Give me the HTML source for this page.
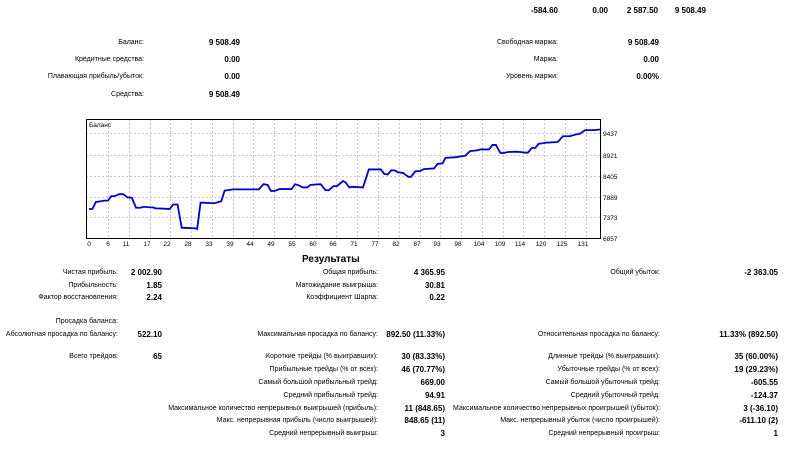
<!DOCTYPE html>
<html><head><meta charset="utf-8"><style>
body{margin:0;width:800px;height:451px;background:#fff;position:relative;overflow:hidden;font-family:"Liberation Sans","DejaVu Sans",sans-serif;font-size:7px;color:#000}
.t{position:absolute;white-space:nowrap;line-height:10px;text-align:right}
.b{font-weight:bold;font-size:8px}
</style></head><body>
<div class="t b" style="right:242px;top:6px">-584.60</div>
<div class="t b" style="right:192px;top:6px">0.00</div>
<div class="t b" style="right:142px;top:6px">2 587.50</div>
<div class="t b" style="right:94px;top:6px">9 508.49</div>

<div class="t" style="right:656px;top:38px">Баланс:</div>
<div class="t b" style="right:560px;top:38px">9 508.49</div>
<div class="t" style="right:656px;top:55px">Кредитные средства:</div>
<div class="t b" style="right:560px;top:55px">0.00</div>
<div class="t" style="right:656px;top:72px">Плавающая прибыль/убыток:</div>
<div class="t b" style="right:560px;top:72px">0.00</div>
<div class="t" style="right:656px;top:90px">Средства:</div>
<div class="t b" style="right:560px;top:90px">9 508.49</div>
<div class="t" style="right:242px;top:38px">Свободная маржа:</div>
<div class="t b" style="right:141px;top:38px">9 508.49</div>
<div class="t" style="right:242px;top:55px">Маржа:</div>
<div class="t b" style="right:141px;top:55px">0.00</div>
<div class="t" style="right:242px;top:72px">Уровень маржи:</div>
<div class="t b" style="right:141px;top:72px">0.00%</div>

<svg style="position:absolute;left:0;top:0" width="800" height="451">
<g stroke="#c8c8c8" stroke-width="1" stroke-dasharray="2,2">
<line x1="86" y1="133.5" x2="600" y2="133.5"/><line x1="86" y1="155.5" x2="600" y2="155.5"/><line x1="86" y1="176.5" x2="600" y2="176.5"/><line x1="86" y1="197.5" x2="600" y2="197.5"/><line x1="86" y1="217.5" x2="600" y2="217.5"/>
<line x1="108.5" y1="119" x2="108.5" y2="238"/><line x1="129.5" y1="119" x2="129.5" y2="238"/><line x1="150.5" y1="119" x2="150.5" y2="238"/><line x1="170.5" y1="119" x2="170.5" y2="238"/><line x1="191.5" y1="119" x2="191.5" y2="238"/><line x1="212.5" y1="119" x2="212.5" y2="238"/><line x1="233.5" y1="119" x2="233.5" y2="238"/><line x1="253.5" y1="119" x2="253.5" y2="238"/><line x1="274.5" y1="119" x2="274.5" y2="238"/><line x1="295.5" y1="119" x2="295.5" y2="238"/><line x1="316.5" y1="119" x2="316.5" y2="238"/><line x1="336.5" y1="119" x2="336.5" y2="238"/><line x1="357.5" y1="119" x2="357.5" y2="238"/><line x1="378.5" y1="119" x2="378.5" y2="238"/><line x1="399.5" y1="119" x2="399.5" y2="238"/><line x1="420.5" y1="119" x2="420.5" y2="238"/><line x1="440.5" y1="119" x2="440.5" y2="238"/><line x1="461.5" y1="119" x2="461.5" y2="238"/><line x1="482.5" y1="119" x2="482.5" y2="238"/><line x1="503.5" y1="119" x2="503.5" y2="238"/><line x1="523.5" y1="119" x2="523.5" y2="238"/><line x1="544.5" y1="119" x2="544.5" y2="238"/><line x1="565.5" y1="119" x2="565.5" y2="238"/><line x1="586.5" y1="119" x2="586.5" y2="238"/>
</g>
<rect x="86.5" y="119.5" width="514" height="119" fill="none" stroke="#000" stroke-width="1"/>
<g transform="translate(82.1,115) scale(0.3434,0.322)">
<polyline fill="none" stroke="#0000c8" stroke-width="1.8" vector-effect="non-scaling-stroke" points="20,292 30,292 40,270 55,268 65,266 75,266 85,252 95,252 108,246 120,246 132,256 145,257 157,288 170,288 180,285 190,286 205,287 215,290 240,291 255,292 265,278 278,278 290,350 330,352 335,354 345,272 385,274 405,268 415,235 440,231 515,231 528,215 540,217 550,236 560,236 575,230 610,230 620,215 630,218 643,225 655,225 665,217 695,215 708,233 718,234 732,221 742,221 760,205 768,210 778,225 790,223 818,225 835,169 870,169 880,183 890,185 900,172 910,172 920,178 935,180 950,192 958,192 970,175 985,174 995,168 1025,166 1035,152 1050,150 1058,133 1090,131 1100,129 1115,127 1130,112 1150,110 1160,107 1185,107 1195,93 1205,93 1218,118 1228,118 1240,115 1265,114 1275,115 1290,117 1298,117 1310,102 1320,102 1330,89 1340,88 1350,86 1385,84 1400,66 1420,66 1440,60 1450,58 1465,47 1490,47 1508,45"/>
</g>
<g font-family="Liberation Sans, sans-serif" font-size="6.5" fill="#000">
<text x="89" y="127">Баланс</text>
<text x="603" y="136">9437</text><text x="603" y="158">8921</text><text x="603" y="179">8405</text><text x="603" y="200">7889</text><text x="603" y="220">7373</text><text x="603" y="241">6857</text>
<g text-anchor="middle">
<text x="89" y="246">0</text><text x="108" y="246">6</text><text x="126" y="246">11</text><text x="147" y="246">17</text><text x="167" y="246">22</text><text x="188" y="246">28</text><text x="209" y="246">33</text><text x="230" y="246">39</text><text x="250" y="246">44</text><text x="271" y="246">49</text><text x="292" y="246">55</text><text x="313" y="246">60</text><text x="333" y="246">66</text><text x="354" y="246">71</text><text x="375" y="246">77</text><text x="396" y="246">82</text><text x="417" y="246">87</text><text x="437" y="246">93</text><text x="458" y="246">98</text><text x="479" y="246">104</text><text x="500" y="246">109</text><text x="520" y="246">114</text><text x="541" y="246">120</text><text x="562" y="246">125</text><text x="583" y="246">131</text>
</g></g>
</svg>

<div class="t b" style="left:302px;top:255px;font-size:10px;text-align:left">Результаты</div>

<div class="t" style="right:682px;top:268px">Чистая прибыль:</div><div class="t b" style="right:638px;top:268px">2 002.90</div>
<div class="t" style="right:682px;top:281px">Прибыльность:</div><div class="t b" style="right:638px;top:281px">1.85</div>
<div class="t" style="right:682px;top:293px">Фактор восстановления:</div><div class="t b" style="right:638px;top:293px">2.24</div>
<div class="t" style="right:682px;top:317px">Просадка баланса:</div>
<div class="t" style="right:682px;top:330px">Абсолютная просадка по балансу:</div><div class="t b" style="right:638px;top:330px">522.10</div>
<div class="t" style="right:682px;top:352px">Всего трейдов:</div><div class="t b" style="right:638px;top:352px">65</div>

<div class="t" style="right:422px;top:268px">Общая прибыль:</div><div class="t b" style="right:355px;top:268px">4 365.95</div>
<div class="t" style="right:422px;top:281px">Матожидание выигрыша:</div><div class="t b" style="right:355px;top:281px">30.81</div>
<div class="t" style="right:422px;top:293px">Коэффициент Шарпа:</div><div class="t b" style="right:355px;top:293px">0.22</div>
<div class="t" style="right:422px;top:330px">Максимальная просадка по балансу:</div><div class="t b" style="right:355px;top:330px">892.50 (11.33%)</div>
<div class="t" style="right:422px;top:352px">Короткие трейды (% выигравших):</div><div class="t b" style="right:355px;top:352px">30 (83.33%)</div>
<div class="t" style="right:422px;top:365px">Прибыльные трейды (% от всех):</div><div class="t b" style="right:355px;top:365px">46 (70.77%)</div>
<div class="t" style="right:422px;top:378px">Самый большой прибыльный трейд:</div><div class="t b" style="right:355px;top:378px">669.00</div>
<div class="t" style="right:422px;top:391px">Средний прибыльный трейд:</div><div class="t b" style="right:355px;top:391px">94.91</div>
<div class="t" style="right:422px;top:404px">Максимальное количество непрерывных выигрышей (прибыль):</div><div class="t b" style="right:355px;top:404px">11 (848.65)</div>
<div class="t" style="right:422px;top:416px">Макс. непрерывная прибыль (число выигрышей):</div><div class="t b" style="right:355px;top:416px">848.65 (11)</div>
<div class="t" style="right:422px;top:429px">Средний непрерывный выигрыш:</div><div class="t b" style="right:355px;top:429px">3</div>

<div class="t" style="right:140px;top:268px">Общий убыток:</div><div class="t b" style="right:22px;top:268px">-2 363.05</div>
<div class="t" style="right:140px;top:330px">Относительная просадка по балансу:</div><div class="t b" style="right:22px;top:330px">11.33% (892.50)</div>
<div class="t" style="right:140px;top:352px">Длинные трейды (% выигравших):</div><div class="t b" style="right:22px;top:352px">35 (60.00%)</div>
<div class="t" style="right:140px;top:365px">Убыточные трейды (% от всех):</div><div class="t b" style="right:22px;top:365px">19 (29.23%)</div>
<div class="t" style="right:140px;top:378px">Самый большой убыточный трейд:</div><div class="t b" style="right:22px;top:378px">-605.55</div>
<div class="t" style="right:140px;top:391px">Средний убыточный трейд:</div><div class="t b" style="right:22px;top:391px">-124.37</div>
<div class="t" style="right:140px;top:404px">Максимальное количество непрерывных проигрышей (убыток):</div><div class="t b" style="right:22px;top:404px">3 (-36.10)</div>
<div class="t" style="right:140px;top:416px">Макс. непрерывный убыток (число проигрышей):</div><div class="t b" style="right:22px;top:416px">-611.10 (2)</div>
<div class="t" style="right:140px;top:429px">Средний непрерывный проигрыш:</div><div class="t b" style="right:22px;top:429px">1</div>
</body></html>
